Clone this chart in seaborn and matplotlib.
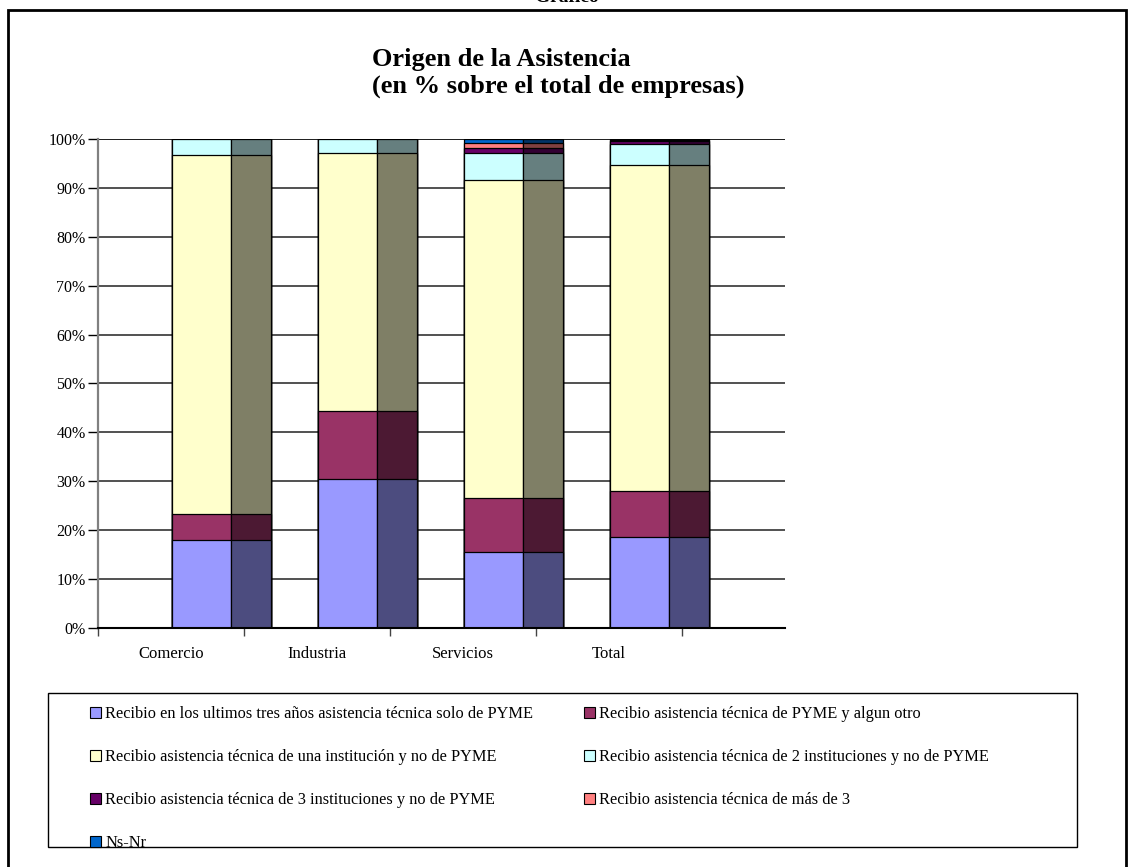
import numpy as np
import pandas as pd
import matplotlib
matplotlib.use("Agg")
import matplotlib.pyplot as plt
from matplotlib.patches import Patch, Rectangle
from matplotlib.ticker import PercentFormatter
import seaborn as sns

# data (% of firms)
categories = ["Comercio", "Industria", "Servicios", "Total"]
solo_pyme = [17.9, 30.4, 15.5, 18.7]
pyme_y_otro = [5.4, 14.0, 11.0, 9.3]
una_inst = [73.4, 52.8, 65.2, 66.6]
dos_inst = [3.3, 2.8, 5.5, 4.4]
tres_inst = [0.0, 0.0, 0.9, 0.5]
mas_tres = [0.0, 0.0, 1.0, 0.2]
ns_nr = [0.0, 0.0, 0.9, 0.3]

series_names = [
    "Recibio en los ultimos tres años asistencia técnica solo de PYME",
    "Recibio asistencia técnica de PYME y algun otro",
    "Recibio asistencia técnica de una institución y no de PYME",
    "Recibio asistencia técnica de 2 instituciones y no de PYME",
    "Recibio asistencia técnica de 3 instituciones y no de PYME",
    "Recibio asistencia técnica de más de 3",
    "Ns-Nr",
]
series_values = [solo_pyme, pyme_y_otro, una_inst, dos_inst, tres_inst, mas_tres, ns_nr]
front_colors = ["#9999FF", "#993366", "#FFFFCC", "#CCFFFF", "#660066", "#FF8080", "#0066CC"]
side_colors = ["#4C4C7F", "#4C1933", "#7F7F66", "#667F7F", "#330033", "#7F4040", "#003366"]

df = pd.DataFrame(dict(zip(series_names, series_values)), index=categories)
cum = df.cumsum(axis=1)

sns.set_theme(style="white")
plt.rcParams["font.family"] = ["Liberation Serif", "DejaVu Serif"]
plt.rcParams["text.color"] = "black"
plt.rcParams["xtick.color"] = "black"
plt.rcParams["ytick.color"] = "black"

fig = plt.figure(figsize=(11.33, 8.67), dpi=100)
ax = fig.add_axes([0.0865, 0.2757, 0.6064, 0.564])

pos = np.arange(len(categories))
front_x = pos + 0.709
side_x = pos + 1.048

# gridlines first so the bars cover them
ax.set_axisbelow(True)
ax.yaxis.grid(True, color="#222222", linewidth=1.1)

# stacked bars: draw cumulative totals from the top layer down
for k in range(len(series_names) - 1, -1, -1):
    heights = cum.iloc[:, k].values
    sns.barplot(x=front_x, y=heights, native_scale=True, width=0.404,
                color=front_colors[k], saturation=1, edgecolor="black",
                linewidth=0.9, ax=ax)
    sns.barplot(x=side_x, y=heights, native_scale=True, width=0.274,
                color=side_colors[k], saturation=1, edgecolor="black",
                linewidth=0.9, ax=ax)

ax.set_xlim(0, 4.705)
ax.set_ylim(0, 100)
ax.set_yticks(np.arange(0, 101, 10))
ax.yaxis.set_major_formatter(PercentFormatter(decimals=0))
ax.set_xticks(np.arange(0, 5))
ax.set_xticklabels([])
ax.set_xticks(pos + 0.5, minor=True)
ax.set_xticklabels(categories, minor=True)
ax.tick_params(axis="x", which="major", direction="out", length=6, width=1,
               color="#444444", bottom=True)
ax.tick_params(axis="x", which="minor", length=0, pad=13, labelsize=12,
               labelcolor="black")
ax.tick_params(axis="y", direction="out", length=7, width=1, color="black",
               pad=2, labelsize=11.5, left=True, labelcolor="black")
ax.set_xlabel("")
ax.set_ylabel("")

for s in ["top", "right"]:
    ax.spines[s].set_visible(False)
ax.spines["left"].set_color("#808080")
ax.spines["left"].set_linewidth(1.6)
ax.spines["bottom"].set_color("black")
ax.spines["bottom"].set_linewidth(1.5)
ax.axhline(100, color="black", linewidth=1.2, zorder=0.5)

# title, left aligned in two lines
fig.text(372 / 1133, 1 - 73 / 867, "Origen de la Asistencia\n(en % sobre el total de empresas)",
         ha="left", va="center", fontsize=19, fontweight="bold", linespacing=1.25,
         color="black")

# heading above the frame, mostly cut off by the page edge as in the source
fig.text(0.5, 1 - 2 / 867, "Gráfico", ha="center", va="baseline",
         fontsize=14, fontweight="bold", color="black")

# outer frame
fig.patches.append(Rectangle((8 / 1133, -0.01), 1118 / 1133, 1.01 - 10 / 867,
                             transform=fig.transFigure, fill=False,
                             edgecolor="black", linewidth=2))

# legend box
fig.patches.append(Rectangle((48 / 1133, 20 / 867), 1029 / 1133, 154 / 867,
                             transform=fig.transFigure, fill=False,
                             edgecolor="black", linewidth=1))

handles = [Patch(facecolor=c, edgecolor="black", linewidth=0.8) for c in front_colors]
order = [0, 2, 4, 6, 1, 3, 5]
leg = fig.legend([handles[i] for i in order], [series_names[i] for i in order],
                 loc="upper left", bbox_to_anchor=(90 / 1133, 1 - 706 / 867),
                 ncol=2, frameon=False, fontsize=11.8, handlelength=0.67,
                 handleheight=0.67, handletextpad=0.25, labelspacing=1.65,
                 columnspacing=3.1, borderpad=0, borderaxespad=0)
for t in leg.get_texts():
    t.set_color("black")

fig.savefig("out.png", dpi=100)
